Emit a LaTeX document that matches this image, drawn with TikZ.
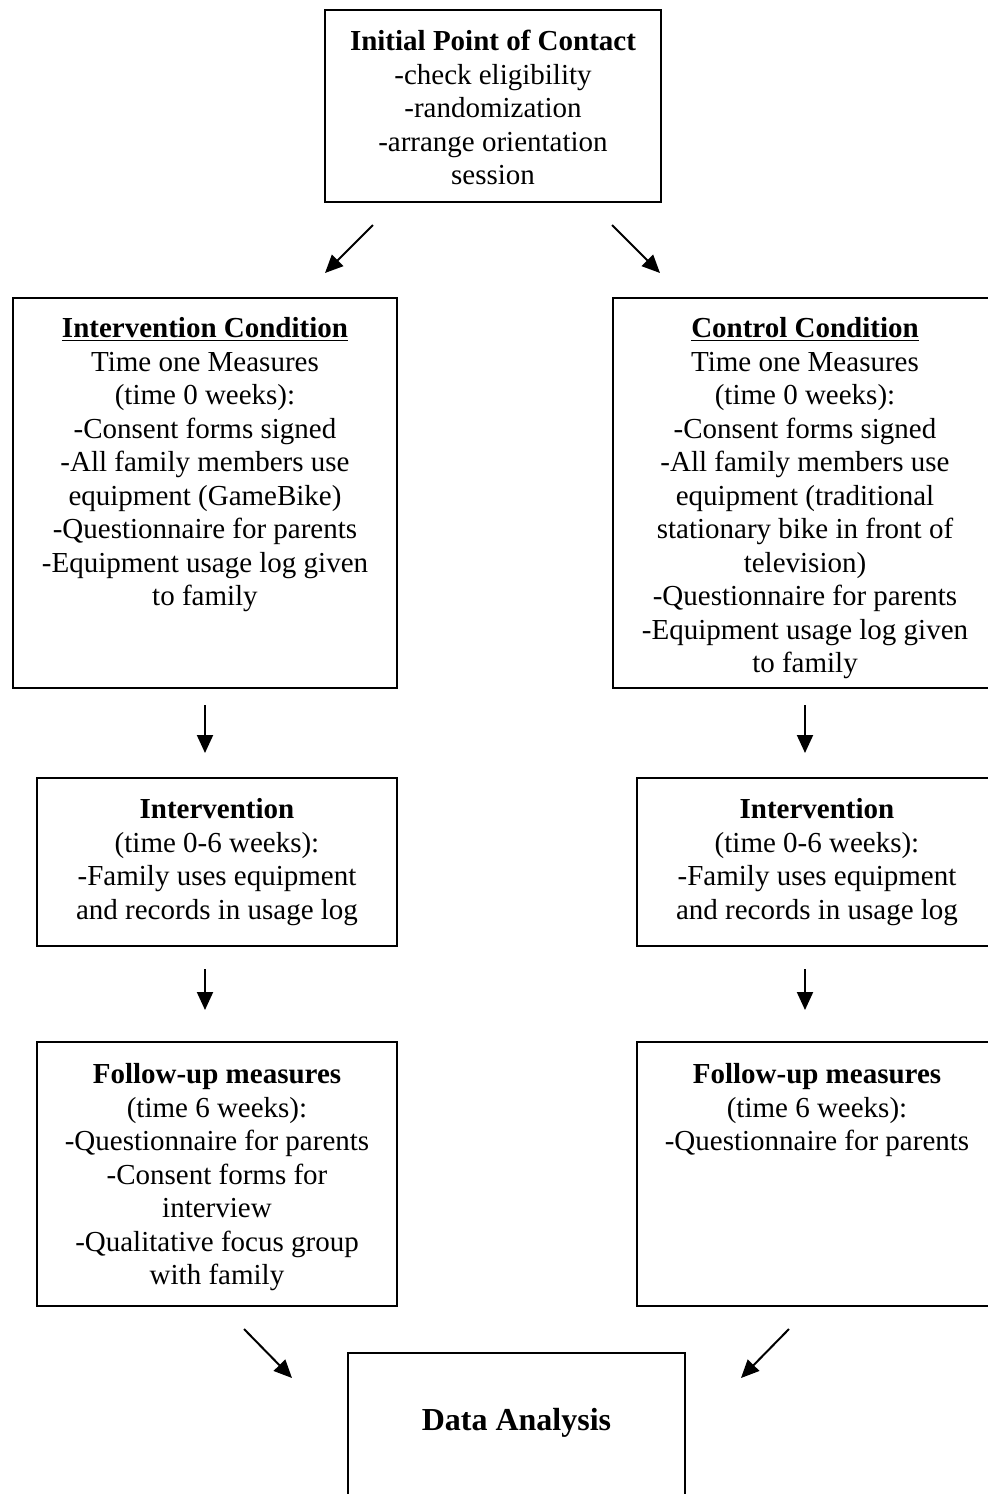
\documentclass[tikz,border=0pt]{standalone}
\usepackage{fontspec}
\setmainfont{Liberation Serif}
\usetikzlibrary{arrows.meta}
\tikzset{
  box/.style={draw, line width=1pt, rectangle, inner sep=0pt},
  txt/.style={anchor=north, align=center, inner sep=0pt,
    font=\fontsize{14.5pt}{16.75pt}\selectfont},
  arr/.style={line width=1pt, -{Triangle[length=9pt,width=8pt]}}
}
\begin{document}
\begin{tikzpicture}[x=0.5pt,y=-0.5pt]
\useasboundingbox (0,0) rectangle (988,1494);
\clip (0,0) rectangle (988,1494);
% boxes
\node[box, minimum width=168pt, minimum height=96pt] (top) at (493,106) {};
\node[box, minimum width=192pt, minimum height=195pt] (ic) at (205,493) {};
\node[box, minimum width=192pt, minimum height=195pt] (cc) at (805,493) {};
\node[box, minimum width=180pt, minimum height=84pt] (iv1) at (217,862) {};
\node[box, minimum width=180pt, minimum height=84pt] (iv2) at (817,862) {};
\node[box, minimum width=180pt, minimum height=132pt] (fu1) at (217,1174) {};
\node[box, minimum width=180pt, minimum height=132pt] (fu2) at (817,1174) {};
\node[box, minimum width=168.5pt, minimum height=83.5pt] (da) at (516.5,1436.5) {};
% texts
\node[txt] (topT) at (493,30) {\textbf{Initial Point of Contact}\\-check eligibility\\-randomization\\-arrange orientation\\session};
\node[txt] (icT) at (205,317) {\underline{\textbf{Intervention Condition}}\\Time one Measures\\(time 0 weeks):\\-Consent forms signed\\-All family members use\\equipment (GameBike)\\-Questionnaire for parents\\-Equipment usage log given\\to family};
\node[txt] (ccT) at (805,317) {\underline{\textbf{Control Condition}}\\Time one Measures\\(time 0 weeks):\\-Consent forms signed\\-All family members use\\equipment (traditional\\stationary bike in front of\\television)\\-Questionnaire for parents\\-Equipment usage log given\\to family};
\node[txt] (iv1T) at (217,798) {\textbf{Intervention}\\(time 0-6 weeks):\\-Family uses equipment\\and records in usage log};
\node[txt] (iv2T) at (817,798) {\textbf{Intervention}\\(time 0-6 weeks):\\-Family uses equipment\\and records in usage log};
\node[txt] (fu1T) at (217,1063) {\textbf{Follow-up measures}\\(time 6 weeks):\\-Questionnaire for parents\\-Consent forms for\\interview\\-Qualitative focus group\\with family};
\node[txt] (fu2T) at (817,1063) {\textbf{Follow-up measures}\\(time 6 weeks):\\-Questionnaire for parents};
\node[txt, font=\fontsize{16pt}{18pt}\selectfont] (daT) at (516.5,1408) {\textbf{Data Analysis}};
% arrow endpoints
\coordinate (a1s) at (373,225); \coordinate (a1e) at (325,273);
\coordinate (a2s) at (612,225); \coordinate (a2e) at (660,273);
\coordinate (a3s) at (205,705); \coordinate (a3e) at (205,753);
\coordinate (a4s) at (805,705); \coordinate (a4e) at (805,753);
\coordinate (a5s) at (205,969); \coordinate (a5e) at (205,1010);
\coordinate (a6s) at (805,969); \coordinate (a6e) at (805,1010);
\coordinate (a7s) at (244,1329); \coordinate (a7e) at (292,1378);
\coordinate (a8s) at (789,1329); \coordinate (a8e) at (741,1378);
\draw[arr] (a1s) -- (a1e);
\draw[arr] (a2s) -- (a2e);
\draw[arr] (a3s) -- (a3e);
\draw[arr] (a4s) -- (a4e);
\draw[arr] (a5s) -- (a5e);
\draw[arr] (a6s) -- (a6e);
\draw[arr] (a7s) -- (a7e);
\draw[arr] (a8s) -- (a8e);
\end{tikzpicture}
\end{document}
